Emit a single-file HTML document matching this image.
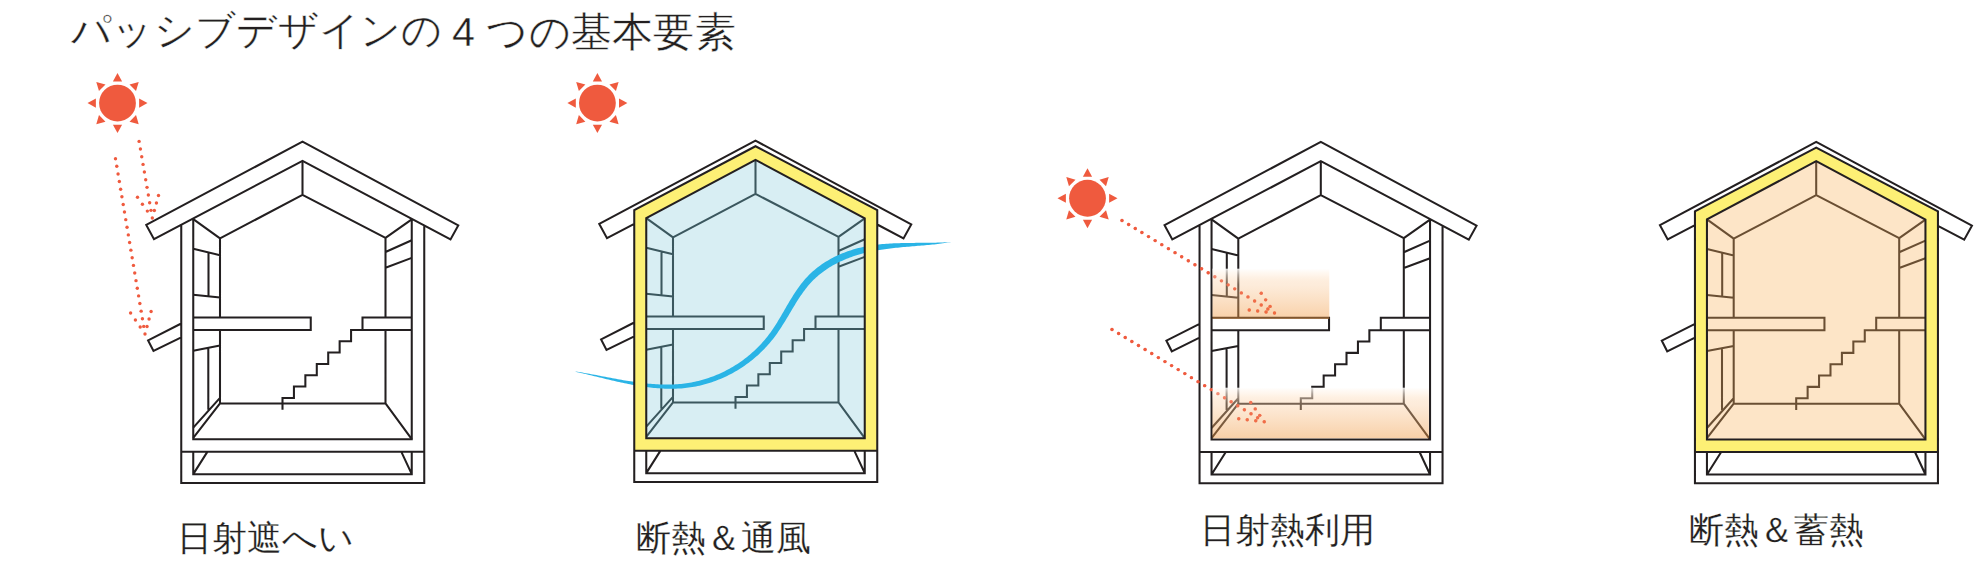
<!DOCTYPE html>
<html><head><meta charset="utf-8"><style>
html,body{margin:0;padding:0;background:#fff;width:1980px;height:568px;overflow:hidden}
.t{position:absolute;font-family:"Liberation Sans",sans-serif;color:#231f20;white-space:nowrap;line-height:1;-webkit-text-stroke:0.2px #fff}
.ttl{-webkit-text-stroke:0.4px #fff}
svg{position:absolute;left:0;top:0}
</style></head><body>
<svg width="1980" height="568" viewBox="0 0 1980 568">
<circle cx="117.5" cy="103.1" r="18.4" fill="#ef5a3e"/><path d="M117.5,73.1L122.1,81.5L112.9,81.5Z" fill="#ef5a3e"/><path d="M138.71,81.89L136.03,91.08L129.52,84.57Z" fill="#ef5a3e"/><path d="M147.5,103.1L139.1,107.7L139.1,98.5Z" fill="#ef5a3e"/><path d="M138.71,124.31L129.52,121.63L136.03,115.12Z" fill="#ef5a3e"/><path d="M117.5,133.1L112.9,124.7L122.1,124.7Z" fill="#ef5a3e"/><path d="M96.29,124.31L98.97,115.12L105.48,121.63Z" fill="#ef5a3e"/><path d="M87.5,103.1L95.9,98.5L95.9,107.7Z" fill="#ef5a3e"/><path d="M96.29,81.89L105.48,84.57L98.97,91.08Z" fill="#ef5a3e"/>
<g fill="#ef5a3e"><circle cx="152.3" cy="218" r="1.7"/><circle cx="150.98" cy="210.34" r="1.7"/><circle cx="149.66" cy="202.68" r="1.7"/><circle cx="148.34" cy="195.02" r="1.7"/><circle cx="147.02" cy="187.36" r="1.7"/><circle cx="145.7" cy="179.7" r="1.7"/><circle cx="144.38" cy="172.04" r="1.7"/><circle cx="143.06" cy="164.38" r="1.7"/><circle cx="141.74" cy="156.72" r="1.7"/><circle cx="140.42" cy="149.06" r="1.7"/><circle cx="139.1" cy="141.4" r="1.7"/><circle cx="147.37" cy="211.1" r="1.7"/><circle cx="142.43" cy="204.2" r="1.7"/><circle cx="137.5" cy="197.3" r="1.7"/><circle cx="154.37" cy="210.5" r="1.7"/><circle cx="156.43" cy="203" r="1.7"/><circle cx="158.5" cy="195.5" r="1.7"/><circle cx="145" cy="334" r="1.7"/><circle cx="143.72" cy="326.38" r="1.7"/><circle cx="142.43" cy="318.76" r="1.7"/><circle cx="141.15" cy="311.13" r="1.7"/><circle cx="139.87" cy="303.51" r="1.7"/><circle cx="138.59" cy="295.89" r="1.7"/><circle cx="137.3" cy="288.27" r="1.7"/><circle cx="136.02" cy="280.65" r="1.7"/><circle cx="134.74" cy="273.03" r="1.7"/><circle cx="133.46" cy="265.4" r="1.7"/><circle cx="132.17" cy="257.78" r="1.7"/><circle cx="130.89" cy="250.16" r="1.7"/><circle cx="129.61" cy="242.54" r="1.7"/><circle cx="128.33" cy="234.92" r="1.7"/><circle cx="127.04" cy="227.3" r="1.7"/><circle cx="125.76" cy="219.67" r="1.7"/><circle cx="124.48" cy="212.05" r="1.7"/><circle cx="123.2" cy="204.43" r="1.7"/><circle cx="121.91" cy="196.81" r="1.7"/><circle cx="120.63" cy="189.19" r="1.7"/><circle cx="119.35" cy="181.57" r="1.7"/><circle cx="118.07" cy="173.94" r="1.7"/><circle cx="116.78" cy="166.32" r="1.7"/><circle cx="115.5" cy="158.7" r="1.7"/><circle cx="140.2" cy="327" r="1.7"/><circle cx="135.4" cy="320" r="1.7"/><circle cx="130.6" cy="313" r="1.7"/><circle cx="147.03" cy="326.5" r="1.7"/><circle cx="149.07" cy="319" r="1.7"/><circle cx="151.1" cy="311.5" r="1.7"/></g>
<g transform="translate(0,0.4)"><path d="M302.5,160.5V194.5 M220,238L302.5,194.5L385.5,237.5 M193.25,218.75L220,238 M411.75,219L385.5,237.5 M220,238V317 M220,329.5V403 M385.5,237.5V317 M385.5,329.5V403 M220,403H385.5 M220,397.5L193.25,427.25 M220,403L193.25,437.5 M385.5,403L411.75,438.75 M193.25,248.3L220,254.75 M208.5,252.8V295.5 M193.25,294.4L220,297.1 M193.25,350.4L220,345.2 M208.3,347.8V409.4 M385.5,251.6L411.75,239.9 M385.5,267.3L411.75,257.5 M193.25,317H310.75V329.5H193.25 M411.75,317H362.5V329.5H411.75 M362.5,329.5H351.07V340.83H339.64V352.17H328.21V363.5H316.79V374.83H305.36V386.17H293.93V397.5H282.5V409.25" fill="none" stroke="#231f20" stroke-width="2.05"/><path d="M193.25,218.75V438.75H411.75V219 M181.25,224.4V482.5H424.25V225.1 M181.25,451.25H424.25 M193.25,451.25V473.75H411.75V451.25 M193.25,473.75L207.5,451.25 M411.75,473.75L401.25,451.25 M302.5,141.25L458.25,225L450.5,239L302.5,160.5L154,238.75L146.25,224.5Z M181.25,323.1L148.1,340L153.5,350.6L181.25,336.9" fill="none" stroke="#231f20" stroke-width="2.05" stroke-linejoin="miter"/></g>
<circle cx="597.4" cy="103.1" r="18.4" fill="#ef5a3e"/><path d="M597.4,73.1L602,81.5L592.8,81.5Z" fill="#ef5a3e"/><path d="M618.61,81.89L615.93,91.08L609.42,84.57Z" fill="#ef5a3e"/><path d="M627.4,103.1L619,107.7L619,98.5Z" fill="#ef5a3e"/><path d="M618.61,124.31L609.42,121.63L615.93,115.12Z" fill="#ef5a3e"/><path d="M597.4,133.1L592.8,124.7L602,124.7Z" fill="#ef5a3e"/><path d="M576.19,124.31L578.87,115.12L585.38,121.63Z" fill="#ef5a3e"/><path d="M567.4,103.1L575.8,98.5L575.8,107.7Z" fill="#ef5a3e"/><path d="M576.19,81.89L585.38,84.57L578.87,91.08Z" fill="#ef5a3e"/>
<g transform="translate(453,-0.6)"><path d="M193.25,438.75V218.75L302.5,160.5L411.75,219V438.75Z" fill="#d8eef3"/><path d="M302.5,160.5V194.5 M220,238L302.5,194.5L385.5,237.5 M193.25,218.75L220,238 M411.75,219L385.5,237.5 M220,238V317 M220,329.5V403 M385.5,237.5V317 M385.5,329.5V403 M220,403H385.5 M220,397.5L193.25,427.25 M220,403L193.25,437.5 M385.5,403L411.75,438.75 M193.25,248.3L220,254.75 M208.5,252.8V295.5 M193.25,294.4L220,297.1 M193.25,350.4L220,345.2 M208.3,347.8V409.4 M385.5,251.6L411.75,239.9 M385.5,267.3L411.75,257.5 M193.25,317H310.75V329.5H193.25 M411.75,317H362.5V329.5H411.75 M362.5,329.5H351.07V340.83H339.64V352.17H328.21V363.5H316.79V374.83H305.36V386.17H293.93V397.5H282.5V409.25" fill="none" stroke="#3b575e" stroke-width="2.05"/><g transform="translate(-453,0.6)"><path d="M575.56,371.74 L577.23,372.18 L578.91,372.55 L580.59,372.93 L582.29,373.32 L583.99,373.71 L585.7,374.11 L587.41,374.51 L589.13,374.92 L590.86,375.33 L592.59,375.75 L594.32,376.17 L596.07,376.59 L597.81,377.01 L599.57,377.44 L601.32,377.86 L603.09,378.29 L604.85,378.71 L606.63,379.14 L608.4,379.56 L610.18,379.98 L611.97,380.4 L613.76,380.81 L615.55,381.22 L617.35,381.63 L619.15,382.03 L620.95,382.42 L622.76,382.81 L624.57,383.19 L626.38,383.57 L628.2,383.93 L630.02,384.29 L631.84,384.64 L633.66,384.98 L635.49,385.31 L637.32,385.62 L639.15,385.93 L640.98,386.22 L642.81,386.5 L644.65,386.77 L646.48,387.02 L648.32,387.26 L650.16,387.49 L652,387.69 L653.84,387.89 L655.68,388.06 L657.52,388.22 L659.36,388.36 L661.2,388.48 L663.04,388.58 L664.88,388.66 L666.72,388.72 L668.56,388.76 L670.4,388.77 L672.23,388.77 L674.07,388.74 L675.91,388.69 L677.74,388.61 L679.57,388.51 L681.4,388.38 L683.23,388.23 L685.05,388.05 L686.88,387.84 L688.69,387.6 L690.51,387.34 L692.32,387.05 L694.12,386.74 L695.92,386.39 L697.72,386.03 L699.51,385.63 L701.29,385.21 L703.07,384.76 L704.84,384.29 L706.61,383.79 L708.36,383.27 L710.11,382.72 L711.85,382.15 L713.59,381.55 L715.31,380.93 L717.03,380.28 L718.74,379.61 L720.44,378.91 L722.12,378.19 L723.8,377.45 L725.47,376.68 L727.13,375.89 L728.78,375.08 L730.41,374.24 L732.04,373.38 L733.65,372.5 L735.25,371.59 L736.84,370.66 L738.41,369.71 L739.98,368.74 L741.53,367.74 L743.06,366.72 L744.59,365.68 L746.09,364.62 L747.59,363.54 L749.07,362.44 L750.53,361.31 L751.98,360.17 L753.41,359 L754.83,357.82 L756.23,356.61 L757.62,355.38 L758.99,354.14 L760.34,352.87 L761.67,351.58 L762.99,350.28 L764.29,348.95 L765.57,347.6 L766.83,346.24 L768.07,344.86 L769.29,343.45 L770.5,342.03 L771.68,340.59 L772.85,339.13 L773.99,337.66 L775.11,336.16 L776.21,334.66 L777.3,333.13 L778.36,331.6 L779.4,330.06 L780.43,328.5 L781.45,326.94 L782.45,325.37 L783.44,323.8 L784.42,322.22 L785.39,320.64 L786.35,319.05 L787.3,317.47 L788.25,315.88 L789.2,314.3 L790.14,312.72 L791.07,311.14 L792.01,309.57 L792.95,308.01 L793.89,306.45 L794.83,304.9 L795.78,303.36 L796.73,301.84 L797.69,300.32 L798.65,298.82 L799.63,297.33 L800.61,295.86 L801.61,294.41 L802.61,292.97 L803.63,291.56 L804.67,290.16 L805.72,288.79 L806.78,287.44 L807.87,286.12 L808.97,284.81 L810.09,283.54 L811.24,282.29 L812.4,281.07 L813.59,279.87 L814.81,278.7 L816.04,277.55 L817.3,276.43 L818.59,275.32 L819.89,274.25 L821.22,273.2 L822.57,272.17 L823.93,271.16 L825.32,270.18 L826.73,269.22 L828.16,268.29 L829.6,267.37 L831.07,266.48 L832.55,265.62 L834.05,264.77 L835.56,263.95 L837.09,263.15 L838.64,262.37 L840.21,261.61 L841.79,260.88 L843.38,260.17 L844.99,259.48 L846.61,258.81 L848.24,258.16 L849.89,257.54 L851.55,256.93 L853.22,256.35 L854.9,255.78 L856.6,255.24 L858.3,254.72 L860.01,254.22 L861.74,253.74 L863.47,253.28 L865.21,252.84 L866.96,252.42 L868.72,252.02 L870.48,251.63 L872.26,251.27 L874.04,250.92 L875.83,250.59 L877.63,250.27 L879.43,249.97 L881.24,249.69 L883.05,249.41 L884.87,249.15 L886.69,248.91 L888.52,248.67 L890.35,248.44 L892.19,248.23 L894.02,248.02 L895.86,247.82 L897.7,247.64 L899.55,247.45 L901.39,247.28 L903.23,247.11 L905.08,246.94 L906.92,246.78 L908.76,246.63 L910.6,246.47 L912.44,246.32 L914.27,246.17 L916.11,246.02 L917.93,245.87 L919.76,245.72 L921.58,245.57 L923.39,245.41 L925.2,245.26 L927.01,245.1 L928.8,244.93 L930.59,244.76 L932.37,244.58 L934.15,244.4 L935.91,244.21 L937.67,244.01 L939.41,243.8 L941.15,243.59 L942.87,243.36 L944.59,243.12 L946.29,242.87 L947.98,242.61 L949.65,242.33 L951.31,242.03 L951.29,241.88 L949.61,242.01 L947.92,242.13 L946.22,242.24 L944.51,242.34 L942.79,242.43 L941.06,242.5 L939.32,242.57 L937.57,242.62 L935.81,242.67 L934.04,242.71 L932.26,242.74 L930.48,242.77 L928.69,242.79 L926.89,242.81 L925.09,242.82 L923.28,242.83 L921.46,242.85 L919.63,242.85 L917.8,242.86 L915.97,242.87 L914.13,242.88 L912.28,242.9 L910.44,242.92 L908.58,242.94 L906.73,242.96 L904.87,242.99 L903,243.03 L901.14,243.08 L899.27,243.13 L897.4,243.19 L895.53,243.27 L893.66,243.35 L891.78,243.45 L889.91,243.55 L888.04,243.67 L886.16,243.81 L884.29,243.96 L882.42,244.12 L880.55,244.31 L878.68,244.51 L876.81,244.73 L874.95,244.96 L873.09,245.22 L871.23,245.5 L869.38,245.8 L867.53,246.13 L865.69,246.47 L863.85,246.85 L862.01,247.24 L860.19,247.67 L858.37,248.12 L856.56,248.59 L854.76,249.09 L852.97,249.62 L851.18,250.17 L849.41,250.75 L847.65,251.35 L845.9,251.98 L844.17,252.64 L842.44,253.32 L840.73,254.03 L839.04,254.76 L837.35,255.52 L835.69,256.31 L834.04,257.12 L832.4,257.97 L830.78,258.83 L829.18,259.73 L827.59,260.65 L826.03,261.6 L824.48,262.57 L822.95,263.58 L821.45,264.61 L819.96,265.66 L818.49,266.75 L817.05,267.86 L815.62,269 L814.22,270.17 L812.85,271.36 L811.5,272.58 L810.17,273.83 L808.86,275.11 L807.59,276.42 L806.34,277.75 L805.11,279.11 L803.92,280.49 L802.75,281.9 L801.6,283.32 L800.48,284.77 L799.39,286.23 L798.31,287.71 L797.26,289.21 L796.22,290.72 L795.2,292.24 L794.2,293.78 L793.21,295.33 L792.23,296.88 L791.26,298.45 L790.31,300.02 L789.36,301.6 L788.42,303.18 L787.49,304.77 L786.56,306.36 L785.64,307.95 L784.71,309.54 L783.79,311.13 L782.87,312.72 L781.95,314.3 L781.02,315.88 L780.09,317.45 L779.16,319.02 L778.22,320.58 L777.27,322.13 L776.31,323.67 L775.34,325.2 L774.36,326.72 L773.37,328.22 L772.36,329.71 L771.34,331.18 L770.3,332.64 L769.24,334.07 L768.17,335.49 L767.07,336.9 L765.96,338.28 L764.82,339.65 L763.67,341 L762.5,342.33 L761.31,343.65 L760.1,344.95 L758.87,346.23 L757.63,347.49 L756.36,348.73 L755.08,349.96 L753.79,351.16 L752.48,352.35 L751.15,353.52 L749.8,354.67 L748.44,355.8 L747.07,356.91 L745.67,358 L744.27,359.07 L742.85,360.13 L741.41,361.16 L739.97,362.17 L738.5,363.16 L737.03,364.13 L735.54,365.08 L734.04,366.01 L732.53,366.92 L731,367.81 L729.47,368.67 L727.92,369.52 L726.36,370.34 L724.79,371.14 L723.2,371.92 L721.61,372.68 L720.01,373.41 L718.4,374.13 L716.78,374.82 L715.14,375.49 L713.5,376.13 L711.86,376.76 L710.2,377.36 L708.53,377.93 L706.86,378.48 L705.18,379.01 L703.49,379.52 L701.8,380 L700.09,380.46 L698.39,380.9 L696.67,381.31 L694.95,381.69 L693.23,382.05 L691.49,382.39 L689.76,382.7 L688.02,382.99 L686.27,383.25 L684.52,383.49 L682.77,383.7 L681.01,383.89 L679.24,384.05 L677.47,384.19 L675.7,384.3 L673.92,384.4 L672.14,384.47 L670.36,384.52 L668.57,384.55 L666.78,384.55 L664.98,384.54 L663.19,384.51 L661.39,384.46 L659.58,384.39 L657.78,384.31 L655.97,384.21 L654.16,384.09 L652.35,383.96 L650.54,383.81 L648.72,383.64 L646.9,383.46 L645.09,383.27 L643.27,383.07 L641.45,382.85 L639.63,382.62 L637.81,382.38 L635.99,382.13 L634.18,381.87 L632.36,381.6 L630.54,381.32 L628.72,381.03 L626.91,380.74 L625.09,380.43 L623.28,380.13 L621.47,379.81 L619.66,379.49 L617.85,379.17 L616.04,378.84 L614.24,378.51 L612.44,378.17 L610.64,377.83 L608.84,377.49 L607.05,377.15 L605.26,376.81 L603.48,376.47 L601.7,376.13 L599.92,375.79 L598.15,375.46 L596.38,375.12 L594.62,374.79 L592.86,374.46 L591.11,374.14 L589.36,373.82 L587.62,373.51 L585.88,373.2 L584.15,372.9 L582.43,372.61 L580.71,372.32 L579,372.04 L577.3,371.78 L575.59,371.59Z" fill="#2ab4e6"/></g><path d="M181.25,451.25V210.75L302.5,146.85L424.25,210.75V451.25Z M193.25,438.75V218.75L302.5,160.5L411.75,219V438.75Z" fill="#fdf075" fill-rule="evenodd"/><path d="M181.25,224.4L154,238.75L146.25,224.5L302.5,141.25L458.25,225L450.5,239L424.25,225.1 M181.25,482.5V210.75L302.5,146.85L424.25,210.75V482.5Z M181.25,482.5H424.25 M181.25,451.25H424.25 M193.25,451.25V473.75H411.75V451.25 M193.25,473.75L207.5,451.25 M411.75,473.75L401.25,451.25 M193.25,438.75V218.75L302.5,160.5L411.75,219V438.75Z M181.25,323.1L148.1,340L153.5,350.6L181.25,336.9" fill="none" stroke="#231f20" stroke-width="2.05" stroke-linejoin="miter"/></g>
<circle cx="1087.5" cy="198.25" r="18.4" fill="#ef5a3e"/><path d="M1087.5,168.25L1092.1,176.65L1082.9,176.65Z" fill="#ef5a3e"/><path d="M1108.71,177.04L1106.03,186.23L1099.52,179.72Z" fill="#ef5a3e"/><path d="M1117.5,198.25L1109.1,202.85L1109.1,193.65Z" fill="#ef5a3e"/><path d="M1108.71,219.46L1099.52,216.78L1106.03,210.27Z" fill="#ef5a3e"/><path d="M1087.5,228.25L1082.9,219.85L1092.1,219.85Z" fill="#ef5a3e"/><path d="M1066.29,219.46L1068.97,210.27L1075.48,216.78Z" fill="#ef5a3e"/><path d="M1057.5,198.25L1065.9,193.65L1065.9,202.85Z" fill="#ef5a3e"/><path d="M1066.29,177.04L1075.48,179.72L1068.97,186.23Z" fill="#ef5a3e"/>
<g transform="translate(1018.3,0.7)"><path d="M302.5,160.5V194.5 M220,238L302.5,194.5L385.5,237.5 M193.25,218.75L220,238 M411.75,219L385.5,237.5 M220,238V317 M220,329.5V403 M385.5,237.5V317 M385.5,329.5V403 M220,403H385.5 M220,397.5L193.25,427.25 M220,403L193.25,437.5 M385.5,403L411.75,438.75 M193.25,248.3L220,254.75 M208.5,252.8V295.5 M193.25,294.4L220,297.1 M193.25,350.4L220,345.2 M208.3,347.8V409.4 M385.5,251.6L411.75,239.9 M385.5,267.3L411.75,257.5 M193.25,317H310.75V329.5H193.25 M411.75,317H362.5V329.5H411.75 M362.5,329.5H351.07V340.83H339.64V352.17H328.21V363.5H316.79V374.83H305.36V386.17H293.93V397.5H282.5V409.25" fill="none" stroke="#231f20" stroke-width="2.05"/><path d="M193.25,218.75V438.75H411.75V219 M181.25,224.4V482.5H424.25V225.1 M181.25,451.25H424.25 M193.25,451.25V473.75H411.75V451.25 M193.25,473.75L207.5,451.25 M411.75,473.75L401.25,451.25 M302.5,141.25L458.25,225L450.5,239L302.5,160.5L154,238.75L146.25,224.5Z M181.25,323.1L148.1,340L153.5,350.6L181.25,336.9" fill="none" stroke="#231f20" stroke-width="2.05" stroke-linejoin="miter"/></g>
<g fill="#ef5a3e"><circle cx="1274.5" cy="313" r="1.7"/><circle cx="1267.87" cy="308.98" r="1.7"/><circle cx="1261.24" cy="304.96" r="1.7"/><circle cx="1254.61" cy="300.93" r="1.7"/><circle cx="1247.98" cy="296.91" r="1.7"/><circle cx="1241.35" cy="292.89" r="1.7"/><circle cx="1234.72" cy="288.87" r="1.7"/><circle cx="1228.09" cy="284.85" r="1.7"/><circle cx="1221.46" cy="280.83" r="1.7"/><circle cx="1214.83" cy="276.8" r="1.7"/><circle cx="1208.2" cy="272.78" r="1.7"/><circle cx="1201.57" cy="268.76" r="1.7"/><circle cx="1194.93" cy="264.74" r="1.7"/><circle cx="1188.3" cy="260.72" r="1.7"/><circle cx="1181.67" cy="256.7" r="1.7"/><circle cx="1175.04" cy="252.67" r="1.7"/><circle cx="1168.41" cy="248.65" r="1.7"/><circle cx="1161.78" cy="244.63" r="1.7"/><circle cx="1155.15" cy="240.61" r="1.7"/><circle cx="1148.52" cy="236.59" r="1.7"/><circle cx="1141.89" cy="232.57" r="1.7"/><circle cx="1135.26" cy="228.54" r="1.7"/><circle cx="1128.63" cy="224.52" r="1.7"/><circle cx="1122" cy="220.5" r="1.7"/><circle cx="1270.08" cy="306.42" r="1.7"/><circle cx="1265.67" cy="299.83" r="1.7"/><circle cx="1261.25" cy="293.25" r="1.7"/><circle cx="1266.08" cy="312" r="1.7"/><circle cx="1257.67" cy="311" r="1.7"/><circle cx="1249.25" cy="310" r="1.7"/><circle cx="1264.25" cy="421.75" r="1.7"/><circle cx="1257.63" cy="417.74" r="1.7"/><circle cx="1251.01" cy="413.73" r="1.7"/><circle cx="1244.39" cy="409.72" r="1.7"/><circle cx="1237.77" cy="405.71" r="1.7"/><circle cx="1231.15" cy="401.7" r="1.7"/><circle cx="1224.53" cy="397.68" r="1.7"/><circle cx="1217.91" cy="393.67" r="1.7"/><circle cx="1211.29" cy="389.66" r="1.7"/><circle cx="1204.67" cy="385.65" r="1.7"/><circle cx="1198.05" cy="381.64" r="1.7"/><circle cx="1191.43" cy="377.63" r="1.7"/><circle cx="1184.82" cy="373.62" r="1.7"/><circle cx="1178.2" cy="369.61" r="1.7"/><circle cx="1171.58" cy="365.6" r="1.7"/><circle cx="1164.96" cy="361.59" r="1.7"/><circle cx="1158.34" cy="357.58" r="1.7"/><circle cx="1151.72" cy="353.57" r="1.7"/><circle cx="1145.1" cy="349.55" r="1.7"/><circle cx="1138.48" cy="345.54" r="1.7"/><circle cx="1131.86" cy="341.53" r="1.7"/><circle cx="1125.24" cy="337.52" r="1.7"/><circle cx="1118.62" cy="333.51" r="1.7"/><circle cx="1112" cy="329.5" r="1.7"/><circle cx="1259.75" cy="415.33" r="1.7"/><circle cx="1255.25" cy="408.92" r="1.7"/><circle cx="1250.75" cy="402.5" r="1.7"/><circle cx="1255.75" cy="420.75" r="1.7"/><circle cx="1247.25" cy="419.75" r="1.7"/><circle cx="1238.75" cy="418.75" r="1.7"/></g>
<defs><linearGradient id="og" x1="0" y1="0" x2="0" y2="1"><stop offset="0" stop-color="#fff" stop-opacity="0.85"/><stop offset="0.12" stop-color="#fff0e1" stop-opacity="0.62"/><stop offset="0.32" stop-color="#facda0" stop-opacity="0.38"/><stop offset="1" stop-color="#f0963c" stop-opacity="0.45"/></linearGradient></defs>
<rect x="1212.5" y="268.7" width="116.8" height="50.3" fill="url(#og)"/>
<rect x="1212.4" y="387.7" width="216.5" height="50.6" fill="url(#og)"/>
<g fill="#ef5a3e" opacity="0.45"><circle cx="1274.5" cy="313" r="1.7"/><circle cx="1267.87" cy="308.98" r="1.7"/><circle cx="1261.24" cy="304.96" r="1.7"/><circle cx="1254.61" cy="300.93" r="1.7"/><circle cx="1247.98" cy="296.91" r="1.7"/><circle cx="1241.35" cy="292.89" r="1.7"/><circle cx="1234.72" cy="288.87" r="1.7"/><circle cx="1228.09" cy="284.85" r="1.7"/><circle cx="1221.46" cy="280.83" r="1.7"/><circle cx="1214.83" cy="276.8" r="1.7"/><circle cx="1208.2" cy="272.78" r="1.7"/><circle cx="1201.57" cy="268.76" r="1.7"/><circle cx="1194.93" cy="264.74" r="1.7"/><circle cx="1188.3" cy="260.72" r="1.7"/><circle cx="1181.67" cy="256.7" r="1.7"/><circle cx="1175.04" cy="252.67" r="1.7"/><circle cx="1168.41" cy="248.65" r="1.7"/><circle cx="1161.78" cy="244.63" r="1.7"/><circle cx="1155.15" cy="240.61" r="1.7"/><circle cx="1148.52" cy="236.59" r="1.7"/><circle cx="1141.89" cy="232.57" r="1.7"/><circle cx="1135.26" cy="228.54" r="1.7"/><circle cx="1128.63" cy="224.52" r="1.7"/><circle cx="1122" cy="220.5" r="1.7"/><circle cx="1270.08" cy="306.42" r="1.7"/><circle cx="1265.67" cy="299.83" r="1.7"/><circle cx="1261.25" cy="293.25" r="1.7"/><circle cx="1266.08" cy="312" r="1.7"/><circle cx="1257.67" cy="311" r="1.7"/><circle cx="1249.25" cy="310" r="1.7"/><circle cx="1264.25" cy="421.75" r="1.7"/><circle cx="1257.63" cy="417.74" r="1.7"/><circle cx="1251.01" cy="413.73" r="1.7"/><circle cx="1244.39" cy="409.72" r="1.7"/><circle cx="1237.77" cy="405.71" r="1.7"/><circle cx="1231.15" cy="401.7" r="1.7"/><circle cx="1224.53" cy="397.68" r="1.7"/><circle cx="1217.91" cy="393.67" r="1.7"/><circle cx="1211.29" cy="389.66" r="1.7"/><circle cx="1204.67" cy="385.65" r="1.7"/><circle cx="1198.05" cy="381.64" r="1.7"/><circle cx="1191.43" cy="377.63" r="1.7"/><circle cx="1184.82" cy="373.62" r="1.7"/><circle cx="1178.2" cy="369.61" r="1.7"/><circle cx="1171.58" cy="365.6" r="1.7"/><circle cx="1164.96" cy="361.59" r="1.7"/><circle cx="1158.34" cy="357.58" r="1.7"/><circle cx="1151.72" cy="353.57" r="1.7"/><circle cx="1145.1" cy="349.55" r="1.7"/><circle cx="1138.48" cy="345.54" r="1.7"/><circle cx="1131.86" cy="341.53" r="1.7"/><circle cx="1125.24" cy="337.52" r="1.7"/><circle cx="1118.62" cy="333.51" r="1.7"/><circle cx="1112" cy="329.5" r="1.7"/><circle cx="1259.75" cy="415.33" r="1.7"/><circle cx="1255.25" cy="408.92" r="1.7"/><circle cx="1250.75" cy="402.5" r="1.7"/><circle cx="1255.75" cy="420.75" r="1.7"/><circle cx="1247.25" cy="419.75" r="1.7"/><circle cx="1238.75" cy="418.75" r="1.7"/></g>
<g transform="translate(1513.7,0.7)"><path d="M193.25,438.75V218.75L302.5,160.5L411.75,219V438.75Z" fill="#fde5c7"/><path d="M302.5,160.5V194.5 M220,238L302.5,194.5L385.5,237.5 M193.25,218.75L220,238 M411.75,219L385.5,237.5 M220,238V317 M220,329.5V403 M385.5,237.5V317 M385.5,329.5V403 M220,403H385.5 M220,397.5L193.25,427.25 M220,403L193.25,437.5 M385.5,403L411.75,438.75 M193.25,248.3L220,254.75 M208.5,252.8V295.5 M193.25,294.4L220,297.1 M193.25,350.4L220,345.2 M208.3,347.8V409.4 M385.5,251.6L411.75,239.9 M385.5,267.3L411.75,257.5 M193.25,317H310.75V329.5H193.25 M411.75,317H362.5V329.5H411.75 M362.5,329.5H351.07V340.83H339.64V352.17H328.21V363.5H316.79V374.83H305.36V386.17H293.93V397.5H282.5V409.25" fill="none" stroke="#6a4f33" stroke-width="2.05"/><path d="M181.25,451.25V210.75L302.5,146.85L424.25,210.75V451.25Z M193.25,438.75V218.75L302.5,160.5L411.75,219V438.75Z" fill="#fdf075" fill-rule="evenodd"/><path d="M181.25,224.4L154,238.75L146.25,224.5L302.5,141.25L458.25,225L450.5,239L424.25,225.1 M181.25,482.5V210.75L302.5,146.85L424.25,210.75V482.5Z M181.25,482.5H424.25 M181.25,451.25H424.25 M193.25,451.25V473.75H411.75V451.25 M193.25,473.75L207.5,451.25 M411.75,473.75L401.25,451.25 M193.25,438.75V218.75L302.5,160.5L411.75,219V438.75Z M181.25,323.1L148.1,340L153.5,350.6L181.25,336.9" fill="none" stroke="#231f20" stroke-width="2.05" stroke-linejoin="miter"/></g>
</svg>
<div class="t ttl" style="left:71px;top:10px;font-size:40px;transform-origin:0 0;transform:scale(1.0074)">パッシブデザインの</div><div class="t ttl" style="left:451.5px;top:10.5px;font-size:40px;transform-origin:0 0;transform:scale(1.031)">4 つの基本要素</div>
<div class="t" style="left:176.5px;top:521px;font-size:34.5px">日射遮へい</div>
<div class="t" style="left:636px;top:521px;font-size:34.5px">断熱＆通風</div>
<div class="t" style="left:1199.5px;top:512.5px;font-size:34.5px">日射熱利用</div>
<div class="t" style="left:1689px;top:512.5px;font-size:34.5px">断熱＆蓄熱</div>
</body></html>
